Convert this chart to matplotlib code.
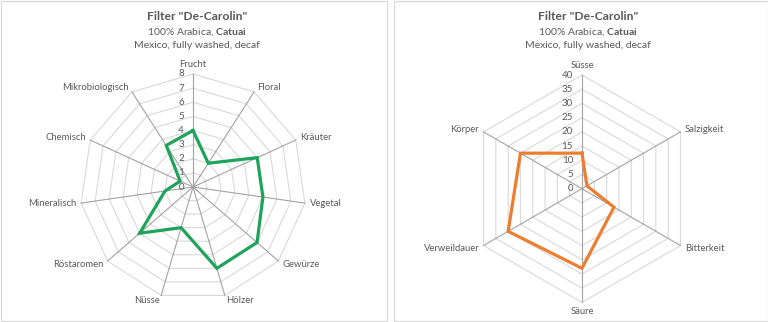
import numpy as np
import matplotlib.pyplot as plt
from matplotlib.patches import Rectangle

plt.rcParams['font.family'] = ['Lato', 'DejaVu Sans']
plt.rcParams['mathtext.fontset'] = 'custom'
plt.rcParams['mathtext.rm'] = 'Lato'
plt.rcParams['mathtext.bf'] = 'Lato:bold'

# Aroma-Profil (links)
aroma_labels = ['Frucht', 'Floral', 'Kräuter', 'Vegetal', 'Gewürze', 'Hölzer',
                'Nüsse', 'Röstaromen', 'Mineralisch', 'Chemisch', 'Mikrobiologisch']
aroma_values = [4, 2, 5, 5, 6, 6, 3, 5, 2, 1, 3.5]
aroma_ticks = [0, 1, 2, 3, 4, 5, 6, 7, 8]

# Geschmacks-Profil (rechts)
taste_labels = ['Süsse', 'Salzigkeit', 'Bitterkeit', 'Säure', 'Verweildauer', 'Körper']
taste_values = [12.5, 2, 13, 28, 30, 25]
taste_ticks = [0, 5, 10, 15, 20, 25, 30, 35, 40]

title = 'Filter "De-Carolin"'
sub1 = '100% Arabica, $\\mathbf{Catuai}$'
sub2 = 'Mexico, fully washed, decaf'

W, H = 768, 322
TXT = '#595959'
fig = plt.figure(figsize=(W / 100, H / 100), dpi=100)


def radar(x0, x1, cx, cy, radius, labels, values, ticks, color, title_x):
    # Achse in Pixel-Einheiten, Ursprung = Mittelpunkt des Netzes
    ax = fig.add_axes([x0 / W, 0, (x1 - x0) / W, 1])
    ax.set_xlim(x0 - cx, x1 - cx)
    ax.set_ylim(-(H - cy), cy)
    ax.axis('off')
    n = len(labels)
    ang = 2 * np.pi * np.arange(n) / n
    s, c = np.sin(ang), np.cos(ang)
    k = radius / ticks[-1]
    # Ringe
    for t in ticks[1:]:
        ax.plot(np.append(s, s[0]) * t * k, np.append(c, c[0]) * t * k,
                color='#d9d9d9', lw=0.8, zorder=1)
    # Speichen
    for i in range(n):
        ax.plot([0, s[i] * radius], [0, c[i] * radius], color='#a3a3a3', lw=0.8, zorder=2)
    # Werte
    v = np.array(values, dtype=float)
    ax.plot(np.append(v * s, v[0] * s[0]) * k, np.append(v * c, v[0] * c[0]) * k,
            color=color, lw=2.3, zorder=3, solid_joinstyle='miter')
    # Beschriftungen
    for i in range(n):
        if s[i] > 0.1:
            ha = 'left'
        elif s[i] < -0.1:
            ha = 'right'
        else:
            ha = 'center'
        va = 'center'
        if abs(s[i]) < 0.1:
            va = 'bottom' if c[i] > 0 else 'top'
        ax.text(s[i] * (radius + 5), c[i] * (radius + 5), labels[i], ha=ha, va=va,
                fontsize=6.8, color=TXT)
    for t in ticks:
        ax.text(-9, t * k, str(t), ha='right', va='center', fontsize=7, color=TXT)
    # Titel
    fig.text(title_x / W, 1 - 17 / H, title, ha='center', va='center',
             fontsize=8.7, fontweight='bold', color=TXT)
    fig.text(title_x / W, 1 - 32.5 / H, sub1, ha='center', va='center', fontsize=7.5, color=TXT)
    fig.text(title_x / W, 1 - 46 / H, sub2, ha='center', va='center', fontsize=7.5, color=TXT)
    return ax


radar(0, 384, 193, 187, 113, aroma_labels, aroma_values, aroma_ticks, '#1fa35a', 197)
radar(384, 768, 582, 188.7, 113.7, taste_labels, taste_values, taste_ticks, '#ed7d31', 588)

# Rahmen der beiden Diagramme
for (a, b) in [(0.5, 386.5), (393.5, 767.5)]:
    fig.add_artist(Rectangle((a / W, 1.5 / H), (b - a) / W, (H - 2.5) / H,
                             transform=fig.transFigure, fill=False, ec='#d9d9d9', lw=0.9))

fig.savefig('out.png', dpi=100, facecolor='white')
